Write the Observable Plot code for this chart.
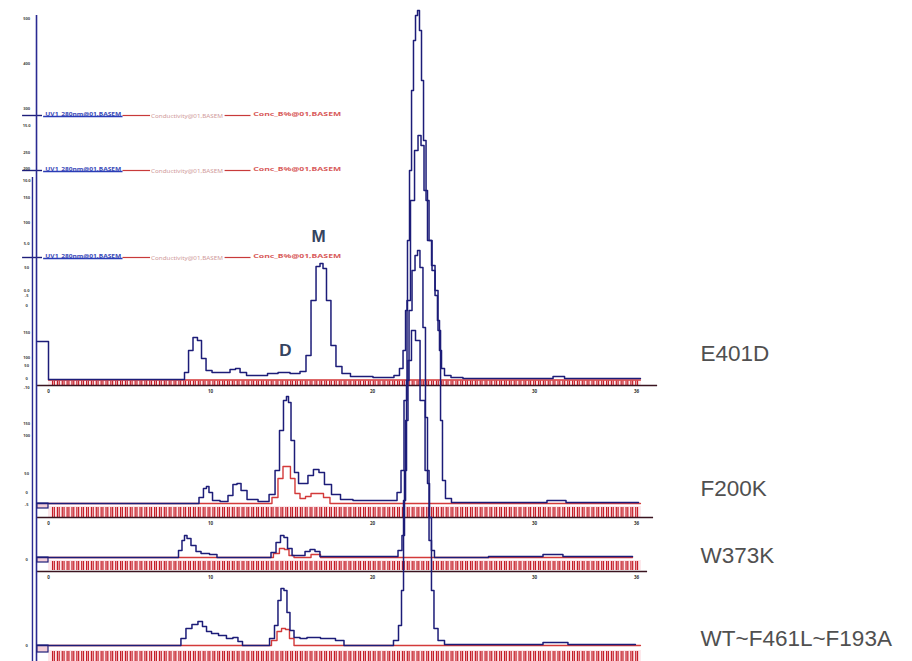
<!DOCTYPE html>
<html><head><meta charset="utf-8">
<script src="https://cdn.jsdelivr.net/npm/d3@7"></script>
<script src="https://cdn.jsdelivr.net/npm/@observablehq/plot@0.6"></script>
<style>body{margin:0;background:#fff}#chart{width:912px;height:661px;overflow:hidden}</style>
</head><body><div id="chart"></div>
<script>
// ---- data (x = elution volume, mL ; y = absorbance, mAU above each trace's baseline) ----
const samples = ["E401D", "F200K", "W373K", "WT~F461L~F193A"];
const offsets = [282, 158, 104, 16];           // stacking offsets of the four runs
const axisDrop = [-6, -14, -14, -18];          // each run's own x-axis below its baseline
const axisEnd = [37.6, 37.35, 36.98, 36.9];
const fracTop = [-1.5, -4, -4, -6];            // fraction-marker rows
const fracBottom = [-6, -14, -13, -16];
const startBox = [null, -5, -5, -7];
const labelY = [307.5, 172.5, 106, 22.5];
const xTickValues = [0, 10, 20, 30, 36.3];
const xTickLabels = ["0", "10", "20", "30", "36"];

const e401dBlue = [[-0.68,38],[0,38],[0,0],[8.27,0],[8.52,7],[8.77,29],[9.07,42],[9.32,39],[9.57,21],[9.88,9],[10.31,7],[10.99,7],[11.42,10],[11.67,11],[11.98,7],[12.47,4],[13.21,4],[13.83,6],[14.51,7],[15.31,6],[15.74,8],[16.05,24],[16.36,79],[16.67,113],[16.85,116],[17.04,111],[17.28,79],[17.59,34],[17.90,13],[18.33,6],[18.95,3],[21.11,2],[21.54,4],[21.79,11],[21.98,29],[22.10,69],[22.22,139],[22.35,209],[22.47,289],[22.59,339],[22.72,364],[22.84,369],[22.96,349],[23.09,299],[23.21,239],[23.40,179],[23.58,139],[23.77,109],[23.95,84],[24.07,59],[24.20,29],[24.32,11],[24.57,4],[25.12,2],[26.05,1],[30.99,1],[31.30,3],[31.73,3],[31.98,1],[36.54,1]];
const f200kBlue = [[-0.68,0],[9.14,0],[9.44,6],[9.69,15],[9.81,17],[10.0,11],[10.25,3],[10.93,2],[11.23,8],[11.54,19],[11.73,20],[12.04,13],[12.47,4],[13.40,2],[13.83,9],[14.14,33],[14.38,73],[14.63,103],[14.75,107],[14.88,101],[15.06,63],[15.31,31],[15.56,20],[15.86,20],[16.17,28],[16.54,34],[16.85,31],[17.22,19],[17.72,9],[18.33,4],[19.26,3],[21.36,3],[21.67,11],[21.85,33],[22.04,103],[22.22,203],[22.47,303],[22.72,353],[22.90,368],[23.09,358],[23.27,313],[23.52,263],[23.77,238],[23.95,213],[24.14,173],[24.26,83],[24.38,23],[24.63,5],[25.12,1],[30.37,1],[31.17,3],[31.79,3],[32.10,1],[36.42,1]];
const w373kBlue = [[-0.68,0],[7.90,0],[8.15,7],[8.33,17],[8.46,22],[8.64,19],[8.95,12],[9.26,6],[9.57,4],[10.31,3],[10.49,0],[13.58,0],[13.89,5],[14.20,15],[14.44,22],[14.63,20],[14.88,9],[15.19,2],[15.68,2],[15.99,6],[16.30,8],[16.60,6],[16.91,1],[21.42,1],[21.73,7],[21.91,22],[22.04,87],[22.16,177],[22.35,247],[22.53,287],[22.72,302],[22.84,307],[23.02,290],[23.21,230],[23.33,140],[23.46,74],[23.58,40],[23.70,7],[23.95,0],[30.37,1],[30.68,3],[31.60,3],[31.91,1],[36.05,1]];
const wtBlue = [[-0.68,0],[8.02,0],[8.33,7],[8.64,17],[9.07,21],[9.38,24],[9.63,19],[9.88,14],[10.25,12],[10.74,10],[11.23,7],[11.54,8],[11.85,4],[12.10,0],[13.46,0],[13.83,7],[14.07,20],[14.26,45],[14.44,57],[14.63,55],[14.81,33],[15.00,15],[15.31,8],[15.74,7],[16.17,8],[17.41,7],[18.02,5],[18.46,0],[21.11,0],[21.48,5],[21.73,20],[21.85,55],[21.98,145],[22.10,225],[22.28,285],[22.53,315],[22.78,305],[23.09,245],[23.40,175],[23.58,105],[23.70,55],[23.89,17],[24.20,5],[24.69,1],[30.37,1],[30.68,3],[31.91,3],[32.22,1],[36.23,1]];

const e401dRed = [[0,-0.5],[36.54,-0.5]];
const f200kRed = [[0,0],[13.58,0],[14.01,6],[14.32,25],[14.63,37],[14.81,37],[15.06,25],[15.37,10],[15.68,5],[16.05,7],[16.36,10],[16.79,10],[17.16,6],[17.59,0],[36.54,0]];
const w373kRed = [[0,0],[13.70,0],[14.07,4],[14.44,9],[14.69,8],[15.00,2],[15.31,0],[16.05,0],[16.36,3],[16.67,3],[16.91,0],[36.05,0]];
const wtRed = [[0,0],[13.58,0],[13.95,5],[14.26,14],[14.51,17],[14.75,16],[15.00,7],[15.31,0],[36.54,0]];

// fraction collection markers (pairs, ~0.3 mL apart)
const fractionStart = 0.25, fractionEnd = 36.4, fractionStep = 0.3, fractionPair = 0.11;

// peak annotations
const peakLabels = ["M", "D"];
const peakLabelX = [16.67, 14.63];
const peakLabelY = [425, 311];

// legend rows of hidden curves (top left)
const legendRowY = [546, 491, 404];
const legendTexts = ["UV1_280nm@01,BASEM", "Conductivity@01,BASEM", "Conc_B%@01,BASEM"];
const legendTextLen = [76, 72, 88];

// left axis tick labels
const yTickY = [643, 598, 553, 536, 509, 493, 481, 464, 439, 418, 394, 371, 366, 356, 329, 304, 296, 283, 274, 238, 226, 188, 169, 157, 102, 16];
const yTickText = ["500","400","300","15.0","250","200","10.0","150","100","5.0","50","0.0","-5","0","150","100","50","0","-10","150","100","50","0","-5","0","0"];

// ---- build tables ----
const blues = [e401dBlue, f200kBlue, w373kBlue, wtBlue];
const reds = [e401dRed, f200kRed, w373kRed, wtRed];
const toRows = (arr, ch) => arr.flatMap((pts, i) => pts.map(([v, s]) => ({run: samples[i] + ch, v, y: offsets[i] + s})));
const blueRows = toRows(blues, "b");
const redRows = toRows(reds, "r");
const fracV = d3.range(fractionStart, fractionEnd, fractionStep).flatMap(v => [v, v + fractionPair]);
const fracRows = offsets.flatMap((o, i) => fracV.map(v => ({v, y1: o + fracTop[i], y2: o + fracBottom[i]})));
const bandRows = offsets.map((o, i) => ({x1: 0, x2: 36.6, y1: o + fracTop[i] + 1, y2: o + fracBottom[i]}));
const axisRows = offsets.map((o, i) => ({y: o + axisDrop[i], x1: -0.74, x2: axisEnd[i]}));
const xTickRows = offsets.slice(0, 3).flatMap((o, i) => xTickValues.map((v, k) => ({v, y: o + axisDrop[i] - 6, t: xTickLabels[k]})));
const boxRows = offsets.map((o, i) => startBox[i] == null ? null : ({x1: -0.68, x2: 0, y1: o + startBox[i], y2: o})).filter(d => d);
const nameRows = samples.map((s, i) => ({s, y: labelY[i]}));
const peakRows = peakLabels.map((t, i) => ({t, v: peakLabelX[i], y: peakLabelY[i]}));
const legBlue = legendRowY.map(y => ({y, x1: -0.3, x2: 4.6}));
const legRedA = legendRowY.map(y => ({y, x1: 4.6, x2: 6.3}));
const legRedB = legendRowY.map(y => ({y, x1: 10.9, x2: 12.5}));
const legRedC = legendRowY.map(y => ({y, x1: 12.5, x2: 18.2}));
const legCross = legendRowY.map(y => ({y, x1: -1.6, x2: -0.37}));
const yTickRows = yTickY.map((y, i) => ({y, t: yTickText[i]}));

const chart = Plot.plot({
  width: 912, height: 661,
  marginTop: 0, marginRight: 0, marginBottom: 0, marginLeft: 0,
  x: {domain: [-48 / 16.2, (912 - 48) / 16.2], axis: null},
  y: {domain: [0, 661], axis: null},
  style: {background: "#fff"},
  marks: [
    Plot.rect(bandRows, {x1: "x1", x2: "x2", y1: "y1", y2: "y2", fill: "#fde7ea"}),
    Plot.ruleX(fracRows, {x: "v", y1: "y1", y2: "y2", stroke: "#c41e28", strokeWidth: 1.2}),
    Plot.ruleY(axisRows, {y: "y", x1: "x1", x2: "x2", stroke: "#3a1420", strokeWidth: 1.6}),
    Plot.text(xTickRows, {x: "v", y: "y", text: "t", fontSize: 4.5, fontWeight: "bold", fill: "#333"}),
    // legend rows
    Plot.ruleY(legCross, {y: "y", x1: "x1", x2: "x2", stroke: "#1e1e7a", strokeWidth: 1.4}),
    Plot.ruleY(legBlue, {y: d => d.y - 1, x1: "x1", x2: "x2", stroke: "#2a3cb6", strokeWidth: 1.6}),
    Plot.text(legendRowY, {x: 2.15, y: d => d + 1.5, text: () => legendTexts[0], fontSize: 5.5, fill: "#3a4ab8", fontWeight: "bold"}),
    Plot.ruleY(legRedA, {y: "y", x1: "x1", x2: "x2", stroke: "#c83a3a", strokeWidth: 1.2}),
    Plot.text(legendRowY, {x: 8.55, y: d => d - 0.5, text: () => legendTexts[1], fontSize: 5.5, fill: "#d09a9a"}),
    Plot.ruleY(legRedB, {y: "y", x1: "x1", x2: "x2", stroke: "#c83a3a", strokeWidth: 1.2}),
    Plot.ruleY(legRedC, {y: d => d - 1, x1: "x1", x2: "x2", stroke: "#d0403a", strokeWidth: 1.6}),
    Plot.text(legendRowY, {x: 15.35, y: d => d + 1.5, text: () => legendTexts[2], fontSize: 5.5, fill: "#d85a5a", fontWeight: "bold"}),
    // left axis
    Plot.ruleX([-0.74], {y1: 0, y2: 646, stroke: "#2a2a92", strokeWidth: 1.6}),
    Plot.ruleX([-0.99], {y1: 0, y2: 484, stroke: "#2a2a92", strokeWidth: 1.4}),
    Plot.text(yTickRows, {x: -1.35, y: "y", text: "t", fontSize: 4, fontWeight: "bold", fill: "#444"}),
    // start boxes
    Plot.rect(boxRows, {x1: "x1", x2: "x2", y1: "y1", y2: "y2", fill: "#f4cfd8", stroke: "#1e1e7a", strokeWidth: 1.2}),
    // traces
    Plot.line(redRows, {x: "v", y: "y", z: "run", stroke: "#d33a3a", strokeWidth: 1.4, curve: "step"}),
    Plot.line(blueRows, {x: "v", y: "y", z: "run", stroke: "#1c1c78", strokeWidth: 1.5, curve: "step"}),
    // annotations
    Plot.text(peakRows, {x: "v", y: "y", text: "t", fontSize: 17, fontWeight: "bold", fill: "#35445f", fontFamily: "Liberation Sans, Arial, sans-serif"}),
    Plot.text(nameRows, {x: 40.25, y: "y", text: "s", textAnchor: "start", fontSize: 22.5, fill: "#505050", fontFamily: "Liberation Sans, Arial, sans-serif"})
  ]
});
// stretch the tiny legend captions over their underline length
d3.select(chart).selectAll("text").each(function () {
  const k = legendTexts.indexOf(this.textContent);
  if (k >= 0) d3.select(this).attr("textLength", legendTextLen[k]).attr("lengthAdjust", "spacingAndGlyphs");
});
document.getElementById("chart").appendChild(chart);
</script>
</body></html>
